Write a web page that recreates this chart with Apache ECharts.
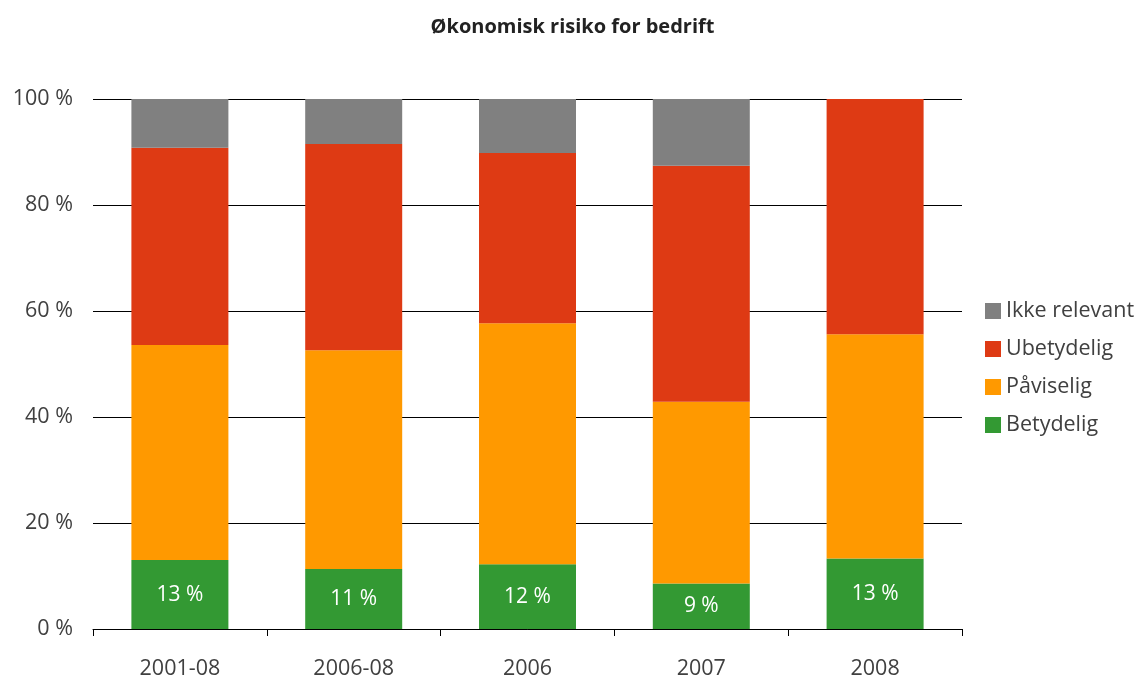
<!DOCTYPE html>
<html><head><meta charset="utf-8">
<script src="https://cdn.jsdelivr.net/npm/echarts@6/dist/echarts.min.js"></script>
<style>html,body{margin:0;padding:0;background:#fff}#c{width:1145px;height:680px}</style>
</head><body><div id="c"></div>
<script>
const categories = ['2001-08', '2006-08', '2006', '2007', '2008'];
const betydelig = [13.0, 11.3, 12.2, 8.6, 13.3];
const paviselig = [40.6, 41.3, 45.5, 34.3, 42.3];
const ubetydelig = [37.2, 38.9, 32.1, 44.5, 44.4];
const ikkeRelevant = [9.2, 8.5, 10.2, 12.6, 0];
const yTicks = [0, 20, 40, 60, 80, 100];

const font = '"Open Sans", "Noto Sans", sans-serif';
const chart = echarts.init(document.getElementById('c'));
function s(name, data, color, label) {
  return {
    name, type: 'bar', stack: 'a', data, barWidth: 97,
    itemStyle: { color },
    label: label ? { show: true, position: 'inside', color: '#fff', fontFamily: font, fontSize: 21,
      formatter: p => Math.round(p.value) + ' %' } : { show: false }
  };
}
chart.setOption({
  animation: false,
  title: { text: 'Økonomisk risiko for bedrift', left: 'center', top: 12,
    textStyle: { fontFamily: font, fontSize: 20, fontWeight: 'bold', color: '#222' } },
  grid: { left: 93, right: 183, top: 99, bottom: 49 },
  legend: {
    orient: 'vertical', left: 980, top: 295, itemWidth: 16, itemHeight: 16, itemGap: 16,
    icon: 'rect',
    data: ['Ikke relevant', 'Ubetydelig', 'Påviselig', 'Betydelig'],
    textStyle: { fontFamily: font, fontSize: 21.5, color: '#404040', padding: [0, 0, 0, 0] }
  },
  xAxis: {
    type: 'category', data: categories,
    axisLine: { lineStyle: { color: '#000', width: 1 } },
    axisTick: { show: true, alignWithLabel: false, length: 7, lineStyle: { color: '#000' } },
    axisLabel: { fontFamily: font, fontSize: 21.5, color: '#404040', margin: 29 }
  },
  yAxis: {
    type: 'value', min: yTicks[0], max: yTicks[yTicks.length - 1], interval: 20,
    axisLine: { show: false }, axisTick: { show: false },
    splitLine: { lineStyle: { color: '#000', width: 1 } },
    axisLabel: { fontFamily: font, fontSize: 21.5, color: '#404040', margin: 20, formatter: v => v + ' %' }
  },
  series: [
    s('Betydelig', betydelig, '#339933', true),
    s('Påviselig', paviselig, '#FF9900', false),
    s('Ubetydelig', ubetydelig, '#DE3A14', false),
    s('Ikke relevant', ikkeRelevant, '#808080', false)
  ]
});
</script></body></html>
